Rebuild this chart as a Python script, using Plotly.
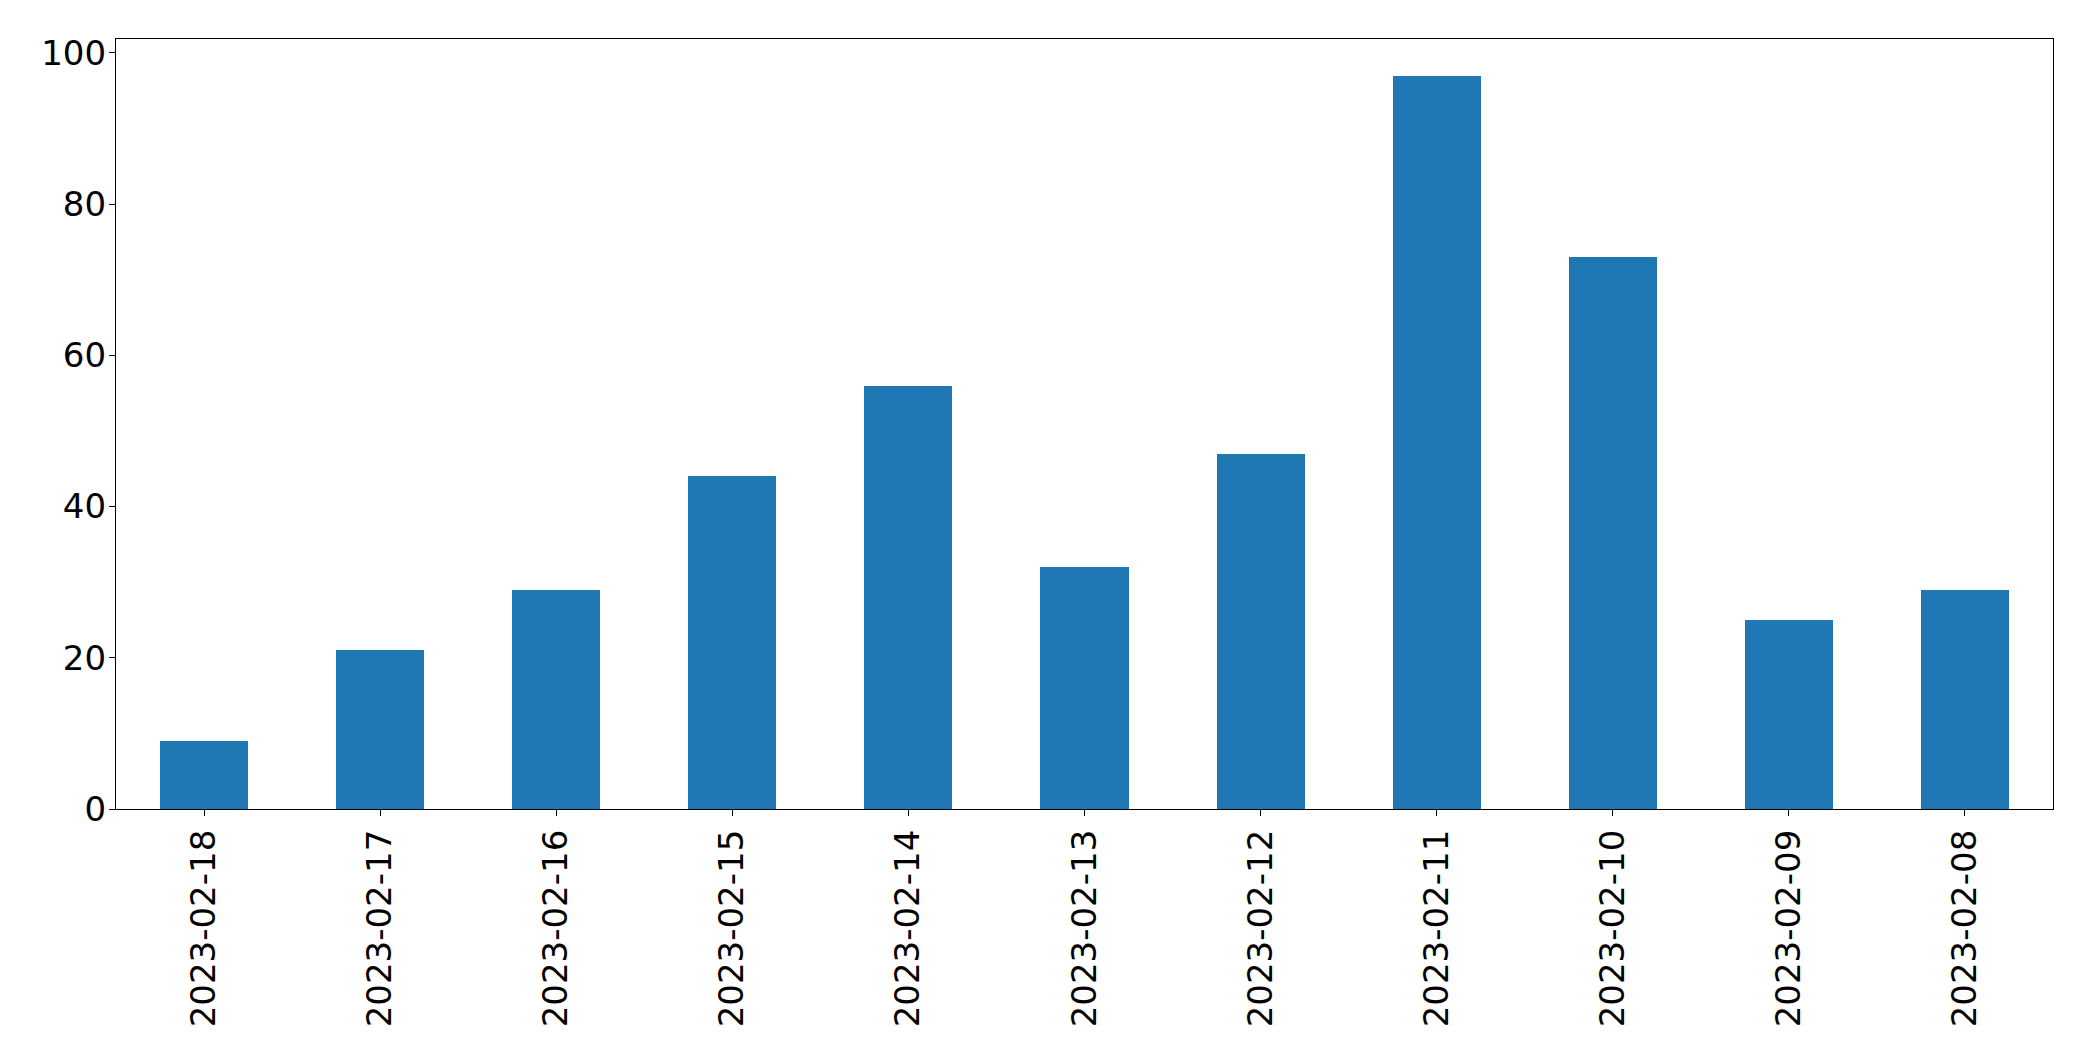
import plotly.graph_objects as go

dates = ["2023-02-18", "2023-02-17", "2023-02-16", "2023-02-15", "2023-02-14",
         "2023-02-13", "2023-02-12", "2023-02-11", "2023-02-10", "2023-02-09", "2023-02-08"]
counts = [9, 21, 29, 44, 56, 32, 47, 97, 73, 25, 29]

fig = go.Figure()
fig.add_trace(go.Bar(
    x=list(range(len(dates))), y=counts, width=0.5,
    marker=dict(color="#1f77b4", line=dict(width=0)),
))

W, H = 2093, 1061
fig.update_layout(
    width=W, height=H,
    margin=dict(l=116, r=40, t=39, b=252, pad=0),
    paper_bgcolor="white", plot_bgcolor="white",
    font=dict(family="DejaVu Sans", size=34, color="black"),
    showlegend=False,
    bargap=0,
)
fig.update_xaxes(
    range=[-0.5, len(dates) - 0.5],
    tickmode="array", tickvals=list(range(len(dates))), ticktext=dates,
    tickangle=-90,
    showline=True, mirror=True, linecolor="black", linewidth=1.3,
    ticks="outside", ticklen=6, tickwidth=1.3, tickcolor="black",
    showgrid=False, zeroline=False,
    ticklabelstandoff=0,
)
fig.update_yaxes(
    range=[0, 101.85],
    tickvals=[0, 20, 40, 60, 80, 100],
    showline=True, mirror=True, linecolor="black", linewidth=1.3,
    ticks="outside", ticklen=6, tickwidth=1.3, tickcolor="black",
    showgrid=False, zeroline=False,
    ticklabelstandoff=-4,
)

fig.write_html("out.html")
